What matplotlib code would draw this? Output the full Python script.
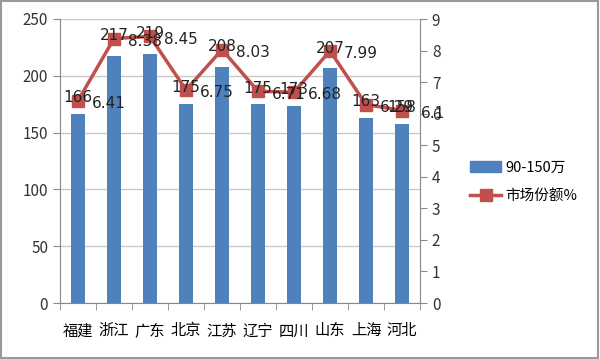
import matplotlib
matplotlib.use("Agg")
import matplotlib.pyplot as plt
from matplotlib.lines import Line2D
from matplotlib.patches import Patch, Rectangle

plt.rcParams['font.family'] = ['Noto Sans CJK SC', 'DejaVu Sans']

categories = ["福建", "浙江", "广东", "北京", "江苏", "辽宁", "四川", "山东", "上海", "河北"]
volume = [166, 217, 219, 175, 208, 175, 173, 207, 163, 158]
share = [6.41, 8.38, 8.45, 6.75, 8.03, 6.71, 6.68, 7.99, 6.29, 6.1]
bar_name = "90-150万"
line_name = "市场份额%"

fig = plt.figure(figsize=(6.0, 3.59), dpi=100)
ax = fig.add_axes([60/600, 1-303/359, 360/600, 284/359])
ax2 = ax.twinx()

x = list(range(len(categories)))
ax.bar(x, volume, width=0.4, color="#4F81BD", zorder=2)
ax.set_ylim(0, 250)
ax.set_yticks([0, 50, 100, 150, 200, 250])
ax.set_xlim(-0.5, len(categories) - 0.5)
ax.set_xticks(x)
ax.set_xticklabels(categories, fontsize=11)
ax.set_xticks([i + 0.5 for i in range(-1, len(categories))], minor=True)
ax.tick_params(axis='x', which='major', length=0, pad=14)
ax.tick_params(axis='x', which='minor', length=5, color="#888888")
ax.tick_params(axis='y', length=5, color="#888888", labelsize=11, labelcolor="#333333")
ax.grid(axis='y', color="#c8c8c8", linewidth=1, zorder=0)
ax.set_axisbelow(True)

ax2.plot(x, share, color="#C0504D", linewidth=2.5, marker='s', markersize=9,
         markerfacecolor="#C0504D", markeredgecolor="#C0504D", zorder=3)
ax2.set_ylim(0, 9)
ax2.set_yticks(range(0, 10))
ax2.tick_params(axis='y', length=5, color="#888888", labelsize=11, labelcolor="#333333")

for i in x:
    ax2.annotate(str(volume[i]), (i, share[i]), xytext=(0, 2), textcoords='offset points',
                 ha='center', va='center', fontsize=11, color="#222222", zorder=5,
                 family=['DejaVu Sans'])
    ax2.annotate(f"{share[i]:g}", (i, share[i]), xytext=(22, -2), textcoords='offset points',
                 ha='center', va='center', fontsize=11, color="#222222", zorder=5,
                 family=['DejaVu Sans'])

for a in (ax, ax2):
    for s in ('top', 'right', 'left', 'bottom'):
        a.spines[s].set_visible(False)
ax.spines['left'].set_visible(True)
ax.spines['left'].set_color("#888888")
ax.spines['bottom'].set_visible(True)
ax.spines['bottom'].set_color("#888888")
ax2.spines['right'].set_visible(True)
ax2.spines['right'].set_color("#888888")

handles = [Patch(facecolor="#4F81BD", edgecolor="#4F81BD"),
           Line2D([0], [0], color="#C0504D", linewidth=2.5, marker='s', markersize=8)]
fig.legend(handles, [bar_name, line_name], loc='center left',
           bbox_to_anchor=(463/600, 1-182/359), frameon=False, fontsize=10.5,
           handlelength=2.1, handletextpad=0.3, borderpad=0, labelspacing=1.0)

fig.patches.append(Rectangle((0.002, 0.003), 0.995, 0.993, transform=fig.transFigure,
                             fill=False, edgecolor="#999999", linewidth=1.5))

fig.savefig("out.png", dpi=100)
